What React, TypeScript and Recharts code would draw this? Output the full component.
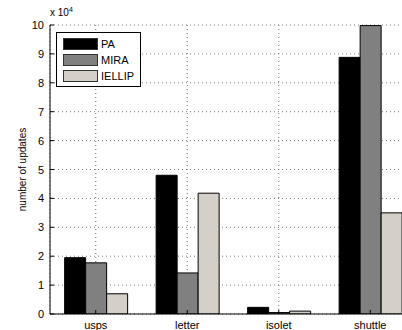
import { BarChart, Bar, XAxis, YAxis, CartesianGrid } from "recharts";

const datasets = ["usps", "letter", "isolet", "shuttle"];
const paValues = [1.95, 4.8, 0.23, 8.88];
const miraValues = [1.77, 1.42, 0.05, 9.98];
const iellipValues = [0.7, 4.18, 0.1, 3.5];
const yTicks = [0, 1, 2, 3, 4, 5, 6, 7, 8, 9, 10];

const series = [
  { key: "PA", color: "#000000" },
  { key: "MIRA", color: "#808080" },
  { key: "IELLIP", color: "#d4d0c8" },
];

const data = datasets.map((name, i) => ({
  name,
  PA: paValues[i],
  MIRA: miraValues[i],
  IELLIP: iellipValues[i],
}));

const font = "Arial, 'Liberation Sans', Helvetica, sans-serif";
const GAP = 6;
const TICK = 4;

// matlab-style ticks: label outside, tick mark pointing into the plot
function YTick(props: any) {
  const { x, y, payload } = props;
  return (
    <g>
      <line x1={x + GAP} x2={x + GAP + TICK} y1={y} y2={y} stroke="#000" />
      <text x={x} y={y} dy={4} textAnchor="end" fontSize={11} fontFamily={font} fill="#000">{payload.value}</text>
    </g>
  );
}

function XTick(props: any) {
  const { x, y, payload } = props;
  return (
    <g>
      <line x1={x} x2={x} y1={y - GAP} y2={y - GAP - TICK} stroke="#000" />
      <text x={x} y={y} dy={9} textAnchor="middle" fontSize={11} fontFamily={font} fill="#000">{payload.value}</text>
    </g>
  );
}

function LegendBox() {
  return (
    <div style={{ position: "absolute", left: 56, top: 32, background: "#fff", border: "1px solid #000", padding: "3px 6px 2px 6px", fontSize: 11 }}>
      {series.map(s => (
        <div key={s.key} style={{ display: "flex", alignItems: "center", height: 16 }}>
          <div style={{ width: 33, height: 10, background: s.color, border: "1px solid #333", marginRight: 3 }} />
          <span>{s.key}</span>
        </div>
      ))}
    </div>
  );
}

export default function App() {
  return (
    <div style={{ position: "absolute", left: 0, top: 0, width: 402, height: 330, overflow: "hidden", background: "#fff", fontFamily: font }}>
      <div style={{ position: "absolute", left: 50, top: 6, fontSize: 10, color: "#000" }}>
        x 10<sup style={{ fontSize: 7 }}>4</sup>
      </div>
      <BarChart
        width={420}
        height={330}
        data={data}
        margin={{ top: 25, right: 4, bottom: 0, left: 0 }}
        barCategoryGap="16%"
        barGap={0}
      >
        <CartesianGrid stroke="#777" strokeDasharray="1 3" />
        <XAxis
          dataKey="name"
          height={16}
          axisLine={{ stroke: "#000" }}
          tickLine={false}
          tickSize={0}
          tickMargin={GAP}
          tick={<XTick />}
        />
        <YAxis
          width={50}
          domain={[0, 10]}
          ticks={yTicks}
          allowDataOverflow
          axisLine={{ stroke: "#000" }}
          tickLine={false}
          tickSize={0}
          tickMargin={GAP}
          tick={<YTick />}
          label={{ value: "number of updates", angle: -90, position: "insideLeft", offset: 22, style: { fill: "#000", fontSize: 10, fontFamily: font, textAnchor: "middle" } }}
        />
        {series.map(s => (
          <Bar key={s.key} dataKey={s.key} fill={s.color} stroke="#000" strokeWidth={1} isAnimationActive={false} />
        ))}
      </BarChart>
      <LegendBox />
    </div>
  );
}
